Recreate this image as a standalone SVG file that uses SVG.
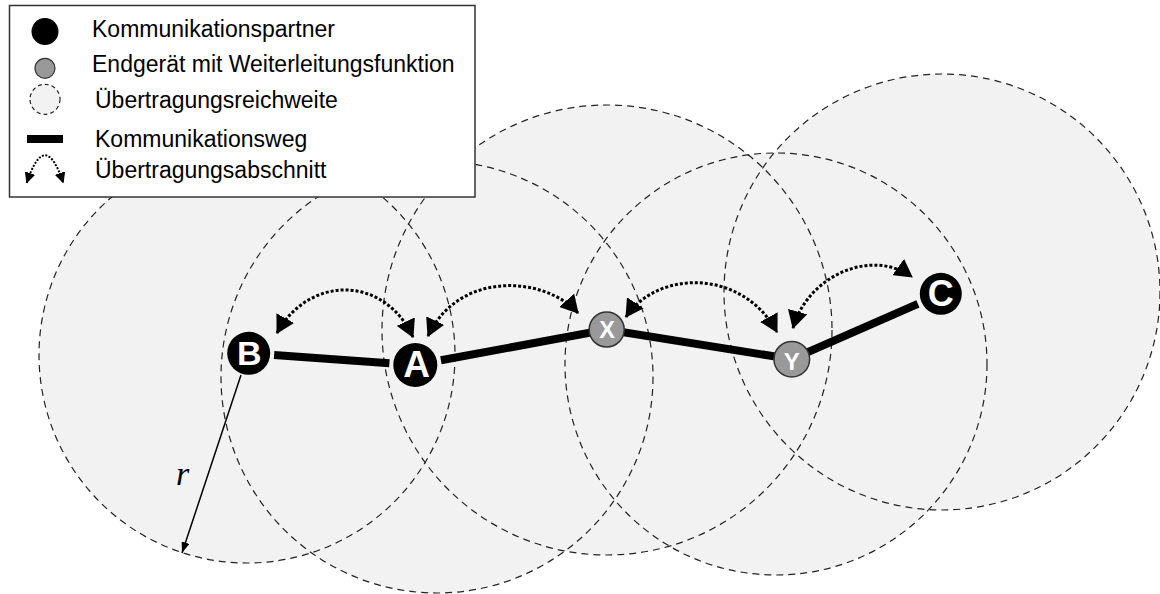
<svg xmlns="http://www.w3.org/2000/svg" width="1160" height="594" viewBox="0 0 1160 594">
<style>
.rf{fill:#f2f2f2;stroke:none}
.rs{fill:none;stroke:#222;stroke-width:1.2;stroke-dasharray:7 5}
.way{stroke:#000;stroke-width:8;fill:none;stroke-linecap:butt;stroke-linejoin:miter}
.hop{fill:none;stroke:#000;stroke-width:3;stroke-dasharray:3 2;marker-start:url(#ah);marker-end:url(#ah)}
.kp{fill:#000}
.fw{fill:#999;stroke:#333;stroke-width:1.5}
.lbl{font-family:"Liberation Sans",Arial,Helvetica,sans-serif;font-weight:bold;fill:#fff;text-anchor:middle}
.leg{font-family:"Liberation Sans",Arial,Helvetica,sans-serif;font-size:23px;fill:#000}
</style>
<defs>
<marker id="ah" markerUnits="userSpaceOnUse" viewBox="0 0 18 20" markerWidth="18" markerHeight="20" refX="17" refY="10" orient="auto-start-reverse"><path d="M0,0 L18,10 L0,20 Z" fill="#000"/></marker>
<marker id="ahs" markerUnits="userSpaceOnUse" viewBox="0 0 11 11" markerWidth="11" markerHeight="11" refX="10.5" refY="5.5" orient="auto-start-reverse"><path d="M0,0 L11,5.5 L0,11 Z" fill="#000"/></marker>
<marker id="ahr" markerUnits="userSpaceOnUse" viewBox="0 0 11 8" markerWidth="11" markerHeight="8" refX="11" refY="4" orient="auto"><path d="M0,0 L11,4 L0,8 Z" fill="#000"/></marker>
</defs>

<g id="ranges">
<circle class="rf" cx="247" cy="355" r="208"/>
<circle class="rf" cx="437" cy="377" r="216"/>
<circle class="rf" cx="607" cy="330" r="225"/>
<circle class="rf" cx="776" cy="364" r="211"/>
<circle class="rf" cx="942" cy="292" r="218"/>
<circle class="rs" cx="247" cy="355" r="208"/>
<circle class="rs" cx="437" cy="377" r="216"/>
<circle class="rs" cx="607" cy="330" r="225"/>
<circle class="rs" cx="776" cy="364" r="211"/>
<circle class="rs" cx="942" cy="292" r="218"/>
</g>

<g id="radius">
<line x1="241" y1="375" x2="182" y2="553" stroke="#000" stroke-width="1.5" marker-end="url(#ahr)"/>
<text x="176" y="485" font-family="'Liberation Serif','Times New Roman',serif" font-style="italic" font-size="34" fill="#000">r</text>
</g>

<g id="connectors">
<line class="way" x1="274.1" y1="355.1" x2="389.4" y2="363.2"/>
<polyline class="way" points="440.9,360.3 606.7,329.5 791.8,359.2 917.9,303.9"/>
<path class="hop" d="M277,333 C309,275 384,275 413,337"/>
<path class="hop" d="M428,336 C459,270 545,276 578,313"/>
<path class="hop" d="M626,317 C657,270 742,268 777,332"/>
<path class="hop" d="M793,328 C808,275 872,248 912,277"/>
</g>

<g id="node-B"><circle class="kp" cx="248.7" cy="353.3" r="21.5"/><text class="lbl" x="249.2" y="365" font-size="34">B</text></g>
<g id="node-A"><circle class="kp" cx="415.3" cy="365" r="22"/><text class="lbl" x="416.7" y="377" font-size="37">A</text></g>
<g id="node-X"><circle class="fw" cx="606.7" cy="329.5" r="17.5"/><text class="lbl" x="607" y="337.8" font-size="23.5">X</text></g>
<g id="node-Y"><circle class="fw" cx="791.8" cy="359.2" r="17.8"/><text class="lbl" x="791.7" y="369.5" font-size="24">Y</text></g>
<g id="node-C"><circle class="kp" cx="940.8" cy="293.8" r="21"/><text class="lbl" x="940.8" y="306" font-size="36">C</text></g>

<g id="legend">
<rect x="9.5" y="5.5" width="465.5" height="191.5" fill="#fff" stroke="#333" stroke-width="1.5"/>
<circle cx="45" cy="31.5" r="13.5" fill="#000"/>
<circle cx="45" cy="68.3" r="10" fill="#999" stroke="#333" stroke-width="1.2"/>
<circle cx="45" cy="99.3" r="15" fill="#f2f2f2" stroke="#222" stroke-width="1.2" stroke-dasharray="4 3"/>
<rect x="27" y="135" width="36" height="8" fill="#000"/>
<path d="M26.7,183 C39,146 51,146 63.3,183" fill="none" stroke="#000" stroke-width="2" stroke-dasharray="2 1.5" marker-start="url(#ahs)" marker-end="url(#ahs)"/>
<text class="leg" x="92" y="36.7">Kommunikationspartner</text>
<text class="leg" x="92" y="71.7">Endgerät mit Weiterleitungsfunktion</text>
<text class="leg" x="95" y="108.3">Übertragungsreichweite</text>
<text class="leg" x="95" y="147">Kommunikationsweg</text>
<text class="leg" x="95" y="178.3">Übertragungsabschnitt</text>
</g>
</svg>
